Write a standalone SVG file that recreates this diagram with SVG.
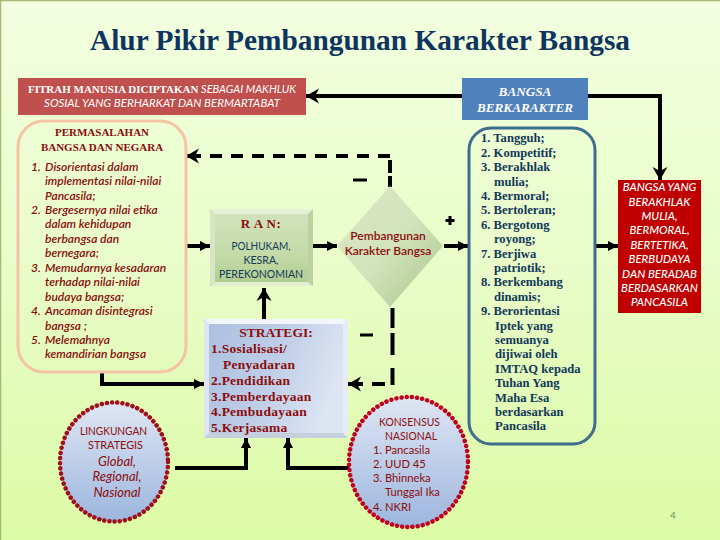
<svg xmlns="http://www.w3.org/2000/svg" width="720" height="540" viewBox="0 0 720 540">
<defs>
<linearGradient id="bg" x1="0" y1="0" x2="0" y2="1"><stop offset="0" stop-color="#f2ffe0"/><stop offset="0.5" stop-color="#e9fcc8"/><stop offset="1" stop-color="#dcfba6"/></linearGradient>
<linearGradient id="green" x1="0" y1="0" x2="0" y2="1"><stop offset="0" stop-color="#d3e3be"/><stop offset="0.6" stop-color="#c4daa8"/><stop offset="1" stop-color="#afcb8e"/></linearGradient>
<linearGradient id="blue" x1="0" y1="0" x2="1" y2="0.3"><stop offset="0" stop-color="#a9bee0"/><stop offset="0.6" stop-color="#c2d0e8"/><stop offset="1" stop-color="#dde5f2"/></linearGradient>
<linearGradient id="oval" x1="0" y1="0" x2="0" y2="1"><stop offset="0" stop-color="#dfe6f3"/><stop offset="1" stop-color="#9db6de"/></linearGradient>
<linearGradient id="dia" x1="0" y1="0" x2="1" y2="1"><stop offset="0" stop-color="#d9e7c4"/><stop offset="0.5" stop-color="#d3e3bc"/><stop offset="1" stop-color="#a9c58a"/></linearGradient>
<marker id="ah" markerUnits="userSpaceOnUse" markerWidth="14" markerHeight="16" refX="13" refY="8" orient="auto"><path d="M0,0.500 L13,8 L0,15.500 L4,8 Z" fill="#000"/></marker>
<marker id="ahs" markerUnits="userSpaceOnUse" markerWidth="12" markerHeight="12" refX="10" refY="6" orient="auto"><path d="M0,1 L10,6 L0,11 Z" fill="#000"/></marker>
</defs>
<style>
svg{font-size:12px}
.l{font-family:"Lato","Liberation Sans",sans-serif}
.s{font-family:"Liberation Serif","DejaVu Serif",serif;font-weight:bold}
.i{font-style:italic}
.m{text-anchor:middle}
.dk{fill:#8b0d0d}
.w{fill:#fff}
.navy{fill:#12385a}
.c{fill:none;stroke:#000;stroke-width:4;stroke-linejoin:miter}
.d{stroke-dasharray:12 9}
.o{stroke-width:4.500;stroke-linecap:round;stroke-dasharray:0.100 5.100}
</style>
<rect width="720" height="540" fill="url(#bg)"/>
<path d="M0.500,540V0.500H720" fill="none" stroke="#a3ba74" stroke-width="1.500"/>
<text id="title" x="360" y="50" class="s m" style="font-size:29px" fill="#0e3460" textLength="540" lengthAdjust="spacingAndGlyphs">Alur Pikir Pembangunan Karakter Bangsa</text>

<g id="connectors">
<path class="c" d="M462,96H306" marker-end="url(#ah)"/>
<path class="c" d="M588,96H660V180" marker-end="url(#ah)"/>
<path class="c" d="M186,246H210" marker-end="url(#ahs)"/>
<path class="c" d="M312,246H337" marker-end="url(#ahs)"/>
<path class="c" d="M444,246H468" marker-end="url(#ahs)"/>
<path class="c" d="M594,246H618" marker-end="url(#ahs)"/>
<path class="c" d="M264,319V288" marker-end="url(#ah)"/>
<path class="c" d="M102,373V384H204" marker-end="url(#ahs)"/>
<path class="c" d="M175,468H246V438" marker-end="url(#ahs)"/>
<path class="c" d="M350,468H288V438" marker-end="url(#ahs)"/>
<path class="c d" d="M390,156H210"/>
<path class="c" d="M201,156H186" marker-end="url(#ah)"/>
<path class="c" d="M390,160V173M390,176V187M392.500,308V328M392.500,333V355M392.500,368V385M372,384H385"/>
<path class="c" d="M363,384H348" marker-end="url(#ah)"/>
<path class="c" d="M353,180H367M360,335H373M450,216V225M445.500,220.500H454.500" style="stroke-width:3"/>
</g>

<g id="fitrah"><rect x="18" y="78" width="288" height="37" fill="#c0504d"/>
<text x="162" y="93" class="m w" style="font-size:11px"><tspan class="s">FITRAH MANUSIA DICIPTAKAN </tspan><tspan class="l i">SEBAGAI MAKHLUK</tspan></text>
<text x="162" y="107" class="l m i w" style="font-size:11.500px">SOSIAL YANG BERHARKAT DAN BERMARTABAT</text></g>

<g id="berkarakter"><rect x="462" y="78" width="126" height="42" fill="#4f81bd"/>
<text x="525" y="96" class="s i m w" style="font-size:13.200px">BANGSA</text>
<text x="525" y="112" class="s i m w" style="font-size:13.200px">BERKARAKTER</text></g>

<g id="permasalahan"><rect x="18" y="121" width="168" height="251" rx="26" fill="none" stroke="#f4c4a4" stroke-width="3"/>
<text x="102" y="136" class="s m dk" style="font-size:11px">PERMASALAHAN</text>
<text x="102" y="151" class="s m dk" style="font-size:11px">BANGSA DAN NEGARA</text>
<g class="l i dk" font-weight="600">
<text x="31" y="171">1.</text><text x="45" y="171">Disorientasi dalam</text>
<text x="45" y="185">implementasi nilai-nilai</text>
<text x="45" y="200">Pancasila;</text>
<text x="31" y="214">2.</text><text x="45" y="214">Bergesernya nilai etika</text>
<text x="45" y="228">dalam kehidupan</text>
<text x="45" y="243">berbangsa dan</text>
<text x="45" y="257">bernegara;</text>
<text x="31" y="272">3.</text><text x="45" y="272">Memudarnya kesadaran</text>
<text x="45" y="286">terhadap nilai-nilai</text>
<text x="45" y="301">budaya bangsa;</text>
<text x="31" y="315">4.</text><text x="45" y="315">Ancaman disintegrasi</text>
<text x="45" y="330">bangsa ;</text>
<text x="31" y="344">5.</text><text x="45" y="344">Melemahnya</text>
<text x="45" y="358">kemandirian bangsa</text>
</g></g>

<g id="ran"><rect x="210" y="209" width="103" height="77" fill="url(#green)"/>
<path d="M210,209H313L308,214H215Z" fill="#e6f0d8"/><path d="M210,286H313L308,282H215Z" fill="#e2edd2"/><path d="M210,209V286L215,282V214Z" fill="#d8e6c6"/><path d="M313,209V286L308,282V214Z" fill="#bcd29e"/>
<text x="261" y="228" class="s m dk" style="font-size:13px;letter-spacing:.5px">R A N:</text>
<g class="l m navy" style="font-size:11.500px"><text x="261" y="250" textLength="59" lengthAdjust="spacingAndGlyphs">POLHUKAM,</text><text x="261" y="264" textLength="35" lengthAdjust="spacingAndGlyphs">KESRA,</text><text x="261" y="278" textLength="84" lengthAdjust="spacingAndGlyphs">PEREKONOMIAN</text></g></g>

<g id="strategi"><rect x="204" y="319" width="144" height="119" fill="url(#blue)"/>
<path d="M204,319H348L343,324H209Z" fill="#f2f5fa"/><path d="M204,438H348L343,433H209Z" fill="#c6cfdd"/><path d="M204,319V438L209,433V324Z" fill="#dfe6f2"/><path d="M348,319V438L343,433V324Z" fill="#e6ebf4"/>
<g class="s dk"><text x="276" y="337" class="m" style="font-size:13.500px">STRATEGI:</text>
<g style="font-size:13.500px;letter-spacing:.25px"><text x="211" y="353">1.Sosialisasi/</text>
<text x="223" y="369">Penyadaran</text>
<text x="211" y="385">2.Pendidikan</text>
<text x="211" y="401">3.Pemberdayaan</text>
<text x="211" y="416">4.Pembudayaan</text>
<text x="211" y="432">5.Kerjasama</text></g></g></g>

<g id="pembangunan"><path d="M390,186L443,246L390,307L337,246Z" fill="url(#dia)"/>
<text x="388" y="240" class="l m dk" font-weight="600">Pembangunan</text>
<text x="388" y="255" class="l m dk" font-weight="600">Karakter Bangsa</text></g>

<g id="karakter-list"><rect x="469" y="128" width="126" height="316" rx="22" fill="none" stroke="#3f6d8e" stroke-width="3"/>
<g class="s navy" style="font-size:12.600px">
<text x="481" y="142">1. Tangguh;</text>
<text x="481" y="157">2. Kompetitif;</text>
<text x="481" y="171">3. Berakhlak</text>
<text x="494" y="186">mulia;</text>
<text x="481" y="200">4. Bermoral;</text>
<text x="481" y="214">5. Bertoleran;</text>
<text x="481" y="229">6. Bergotong</text>
<text x="494" y="243">royong;</text>
<text x="481" y="258">7. Berjiwa</text>
<text x="494" y="272">patriotik;</text>
<text x="481" y="286">8. Berkembang</text>
<text x="494" y="301">dinamis;</text>
<text x="481" y="315">9. Berorientasi</text>
<text x="495" y="330">Iptek yang</text>
<text x="495" y="344">semuanya</text>
<text x="495" y="358">dijiwai oleh</text>
<text x="495" y="373">IMTAQ kepada</text>
<text x="495" y="387">Tuhan Yang</text>
<text x="495" y="402">Maha Esa</text>
<text x="495" y="416">berdasarkan</text>
<text x="495" y="430">Pancasila</text>
</g></g>

<g id="bangsa-yang"><rect x="618" y="180" width="83" height="133" fill="#c00000"/>
<g class="l i m w" style="font-size:11.400px" font-weight="500">
<text x="659.500" y="191">BANGSA YANG</text><text x="659.500" y="206">BERAKHLAK</text><text x="659.500" y="220">MULIA,</text><text x="659.500" y="234">BERMORAL,</text><text x="659.500" y="249">BERTETIKA,</text><text x="659.500" y="263">BERBUDAYA</text><text x="659.500" y="278">DAN BERADAB</text><text x="659.500" y="292">BERDASARKAN</text><text x="659.500" y="306">PANCASILA</text></g></g>

<g id="lingkungan"><ellipse cx="114" cy="462" rx="54" ry="59.500" fill="url(#oval)" stroke="#a00f1a" class="o"/>
<g class="l m dk"><text x="113.500" y="435" style="font-size:11.500px" textLength="67" lengthAdjust="spacingAndGlyphs">LINGKUNGAN</text><text x="115.500" y="449" style="font-size:11.500px" textLength="55" lengthAdjust="spacingAndGlyphs">STRATEGIS</text>
<text x="117" y="466" class="i" style="font-size:13px">Global,</text><text x="117" y="481" class="i" style="font-size:13px">Regional,</text><text x="117" y="497" class="i" style="font-size:13px">Nasional</text></g></g>

<g id="konsensus"><ellipse cx="408.500" cy="462" rx="59.500" ry="65" fill="url(#oval)" stroke="#c00020" class="o"/>
<g class="l dk" style="font-size:11.200px"><text x="409.500" y="426" class="m" textLength="61" lengthAdjust="spacingAndGlyphs">KONSENSUS</text><text x="411" y="440" class="m" textLength="52" lengthAdjust="spacingAndGlyphs">NASIONAL</text>
<text x="373" y="454">1. Pancasila</text><text x="373" y="468">2. UUD 45</text><text x="373" y="482">3. Bhinneka</text><text x="385" y="496">Tunggal Ika</text><text x="373" y="511">4. NKRI</text></g></g>

<text x="673" y="519" class="l m" style="font-size:10px" fill="#6f9060">4</text>
</svg>
